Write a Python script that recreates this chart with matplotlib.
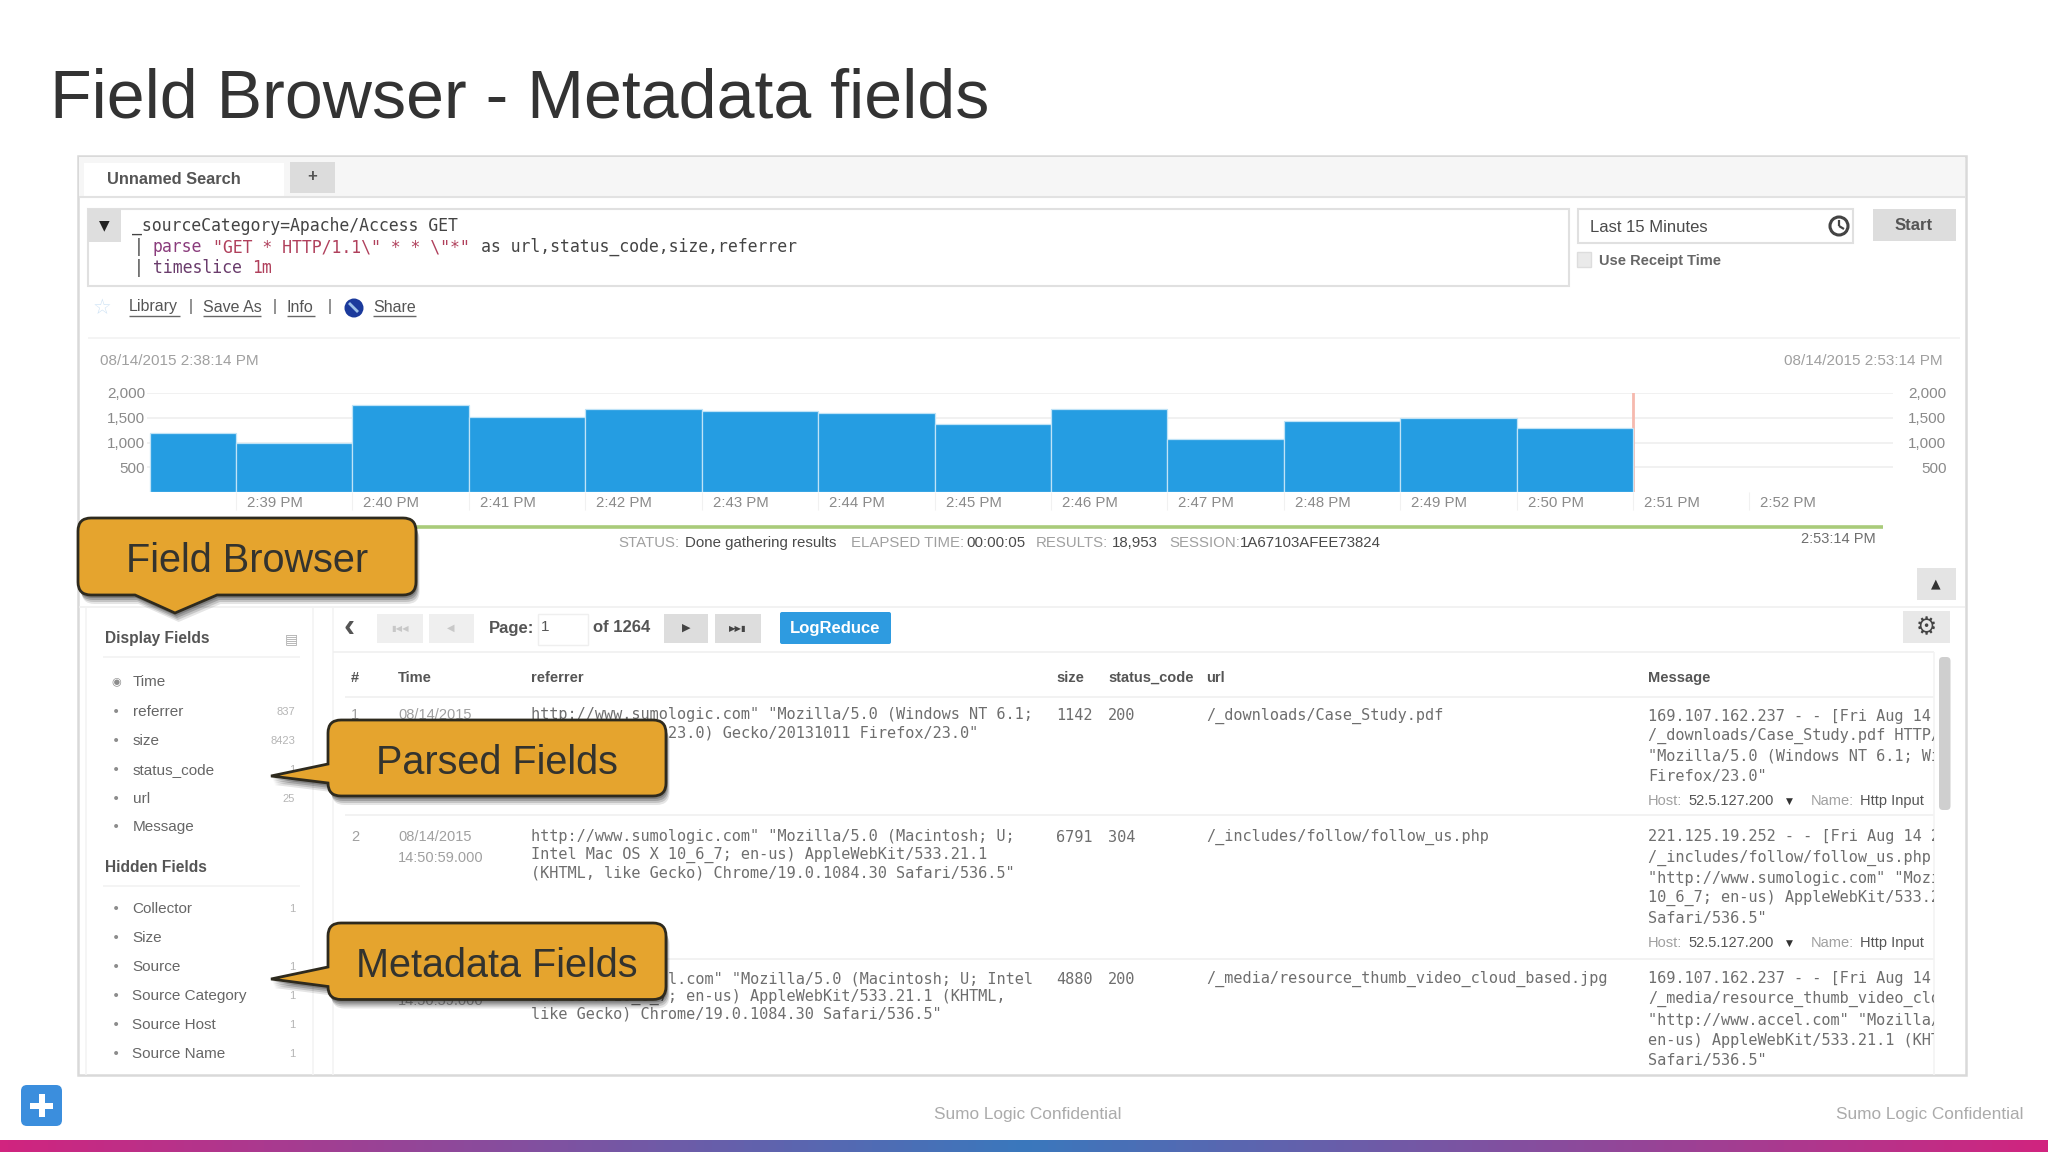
#!/usr/bin/env python3
"""Field Browser slide: log search screenshot with callouts, drawn in pixel coords."""

import matplotlib

matplotlib.use("Agg")
import matplotlib.pyplot as plt
import numpy as np
from matplotlib.colors import LinearSegmentedColormap
from matplotlib.patches import Circle, FancyBboxPatch, PathPatch, Rectangle
from matplotlib.path import Path
from matplotlib.transforms import ScaledTranslation

W, H = 2048, 1152
SANS = "Liberation Sans"
MONO = "DejaVu Sans Mono"
CH = 9.14  # px per char in the results table
BLUE = "#259DE2"
ORANGE = "#E5A42E"
DARK = "#4A4A4A"
MID = "#6E6E6E"
PALE = "#A0A0A0"
RULE = "#F0F0F0"

# ---- Data ---------------------------------------------------------------------
# minutes after 2:39 PM
bar_starts = [-0.74, 0, 1, 2, 3, 4, 5, 6, 7, 8, 9, 10, 11]
bar_widths = [0.74, 1, 1, 1, 1, 1, 1, 1, 1, 1, 1, 1, 1]
bar_counts = [1200, 1000, 1760, 1525, 1686, 1646, 1597, 1375, 1680, 1072, 1443, 1504, 1294]
y_ticks = [500, 1000, 1500, 2000]
y_tick_labels = ["500", "1,000", "1,500", "2,000"]
x_ticks = list(range(14))
x_tick_labels = ["2:39 PM", "2:40 PM", "2:41 PM", "2:42 PM", "2:43 PM", "2:44 PM", "2:45 PM",
                 "2:46 PM", "2:47 PM", "2:48 PM", "2:49 PM", "2:50 PM", "2:51 PM", "2:52 PM"]

display_fields = ["Time", "referrer", "size", "status_code", "url", "Message"]
display_counts = ["", "837", "8423", "1", "25", ""]
hidden_fields = ["Collector", "Size", "Source", "Source Category", "Source Host", "Source Name"]
hidden_counts = ["1", "", "1", "1", "1", "1"]

table_headers = ["#", "Time", "referrer", "size", "status_code", "url", "Message"]
row_sizes = ["1142", "6791", "4880"]
row_codes = ["200", "304", "200"]
row_urls = ["/_downloads/Case_Study.pdf", "/_includes/follow/follow_us.php",
            "/_media/resource_thumb_video_cloud_based.jpg"]
# the parts of rows 1 and 3 that sit under the callouts are left out
row_referrers = [
    ['http://www.sumologic.com" "Mozilla/5.0 (Windows NT 6.1;',
     '               23.0) Gecko/20131011 Firefox/23.0"'],
    ['http://www.sumologic.com" "Mozilla/5.0 (Macintosh; U;',
     'Intel Mac OS X 10_6_7; en-us) AppleWebKit/533.21.1',
     '(KHTML, like Gecko) Chrome/19.0.1084.30 Safari/536.5"'],
    ['               l.com" "Mozilla/5.0 (Macintosh; U; Intel',
     'Mac OS X 10_6_7; en-us) AppleWebKit/533.21.1 (KHTML,',
     'like Gecko) Chrome/19.0.1084.30 Safari/536.5"'],
]
row_messages = [
    ['169.107.162.237 - - [Fri Aug 14 2015',
     '/_downloads/Case_Study.pdf HTTP/1.1"',
     '"Mozilla/5.0 (Windows NT 6.1; Win64',
     'Firefox/23.0"'],
    ['221.125.19.252 - - [Fri Aug 14 2015',
     '/_includes/follow/follow_us.php HTTP',
     '"http://www.sumologic.com" "Mozilla/',
     '10_6_7; en-us) AppleWebKit/533.21.1',
     'Safari/536.5"'],
    ['169.107.162.237 - - [Fri Aug 14 2015',
     '/_media/resource_thumb_video_cloud_b',
     '"http://www.accel.com" "Mozilla/5.0',
     'en-us) AppleWebKit/533.21.1 (KHTML,',
     'Safari/536.5"'],
]

fig = plt.figure(figsize=(W / 100, H / 100), dpi=100, facecolor="white")
page = fig.add_axes([0, 0, 1, 1])
page.axis("off")


def T(x, y, s, size=11, color=DARK, ha="left", weight="normal", family=SANS, **kw):
    return page.text(x, y, s, fontsize=size, color=color, ha=ha, va="center",
                     fontweight=weight, family=family, **kw)


def box(x0, y0, x1, y1, fc="white", ec="none", lw=1.0, r=0, z=1):
    if r:
        p = FancyBboxPatch((x0, y0), x1 - x0, y1 - y0, boxstyle=f"round,pad=0,rounding_size={r}",
                           fc=fc, ec=ec, lw=lw, zorder=z)
    else:
        p = Rectangle((x0, y0), x1 - x0, y1 - y0, fc=fc, ec=ec, lw=lw, zorder=z)
    page.add_patch(p)
    return p


def rule(x0, y0, x1, y1, color=RULE, lw=1.2, z=1.5):
    page.plot([x0, x1], [y0, y1], color=color, lw=lw, zorder=z, solid_capstyle="butt")


def callout(x0, y0, x1, y1, tip, base, side, label, size=28.5):
    """Rounded box with a pointer on its bottom or left side."""
    r = 13
    v = [(x0 + r, y0), (x1 - r, y0), (x1, y0), (x1, y0 + r), (x1, y1 - r), (x1, y1), (x1 - r, y1)]
    c = [Path.MOVETO, Path.LINETO, Path.CURVE3, Path.CURVE3, Path.LINETO, Path.CURVE3, Path.CURVE3]
    if side == "bottom":
        v += [(base[1], y1), tip, (base[0], y1)]
        c += [Path.LINETO] * 3
    v += [(x0 + r, y1), (x0, y1), (x0, y1 - r)]
    c += [Path.LINETO, Path.CURVE3, Path.CURVE3]
    if side == "left":
        v += [(x0, base[1]), tip, (x0, base[0])]
        c += [Path.LINETO] * 3
    v += [(x0, y0 + r), (x0, y0), (x0 + r, y0), (x0 + r, y0)]
    c += [Path.LINETO, Path.CURVE3, Path.CURVE3, Path.CLOSEPOLY]
    path = Path(v, c)
    for off, alpha in ((9, 0.10), (7, 0.14), (5, 0.18), (3, 0.2)):
        shifted = Path(np.array(v) + [off * 0.4, off], c)
        page.add_patch(PathPatch(shifted, fc="black", ec="none", alpha=alpha, zorder=8))
    page.add_patch(PathPatch(path, fc=ORANGE, ec="#2E2A1E", lw=2.0, zorder=9))
    T((x0 + x1) / 2, (y0 + y1) / 2 + 4.5, label, size=size, color="#33332E", ha="center", zorder=10)


# ---- Slide chrome -------------------------------------------------------------
T(50, 99, "Field Browser - Metadata fields", size=49.1, color="#333333")
T(1028, 1114, "Sumo Logic Confidential", size=12.4, color="#ABABAB", ha="center")
T(2024, 1115, "Sumo Logic Confidential", size=12.4, color="#ABABAB", ha="right")

band = LinearSegmentedColormap.from_list("band", ["#D1247F", "#3A78BD", "#D1247F"])
page.imshow(np.linspace(0, 1, 1024)[None, :], extent=[0, W, H, H - 12], cmap=band,
            aspect="auto", zorder=1)

box(21, 1085, 62, 1126, fc="#3B8EDD", r=6, z=3)
box(30, 1102.5, 53, 1108.5, fc="white", z=4)
box(38.5, 1094, 44.5, 1117, fc="white", z=4)

# ---- Screenshot frame and search bar ------------------------------------------
box(78, 156, 1966, 1075, fc="white", ec="#D9D9D9", lw=1.8)
box(79, 157, 1965, 196, fc="#F6F6F6")
rule(79, 197, 1965, 197, color="#E2E2E2", lw=1.5)
box(84, 163, 284, 198, fc="white")
T(107, 180, "Unnamed Search", size=11.8, weight="bold", color="#555555")
box(290, 162, 335, 193, fc="#DCDCDC")
T(312, 177, "+", size=12, ha="center", weight="bold", color="#555555")

box(88, 209, 1569, 286, fc="white", ec="#E0E0E0", lw=1.5)
box(88, 209, 121, 242, fc="#DEDEDE")
T(104.5, 225, "▼", size=10, ha="center", color="#222222", family="DejaVu Sans")


def mono(x, y, s, color=MID, cw=9.95, size=11.9, start=0):
    return T(x + start * cw, y, s, size=size, color=color, family=MONO)


mono(132, 226, "_sourceCategory=Apache/Access GET", color="#444444")
mono(134, 247, "|", color="#444444")
mono(153, 247, "parse", color="#8A3C7C")
mono(153, 247, '"GET * HTTP/1.1\\" * * \\"*"', color="#B0405C", start=6)
mono(153, 247, "as url,status_code,size,referrer", color="#444444", start=33)
mono(134, 268, "|", color="#444444")
mono(153, 268, "timeslice", color="#6A3C6C")
mono(153, 268, "1m", color="#B0405C", start=10)

box(1578, 209, 1853, 243, fc="white", ec="#E0E0E0", lw=1.5)
T(1590, 227, "Last 15 Minutes", size=12)
page.add_patch(Circle((1839, 226), 9, fc="white", ec="#444444", lw=2.2, zorder=3))
rule(1839, 226, 1839, 220, color="#444444", lw=1.6, z=4)
rule(1839, 226, 1844, 229, color="#444444", lw=1.6, z=4)
box(1873, 209, 1956, 241, fc="#DDDDDD")
T(1914, 226, "Start", size=12, ha="center", weight="bold", color="#555555")
box(1577, 252, 1591, 267, fc="#EAEAEA", ec="#DDDDDD")
T(1599, 261, "Use Receipt Time", size=10.5, weight="bold", color="#666666")

T(102, 308, "☆", size=15, ha="center", color="#CFE3F5", family="DejaVu Sans")
for label, x0, x1 in [("Library", 129, 180), ("Save As", 203, 261), ("Info", 287, 315), ("Share", 373, 416)]:
    T(x0, 307, label, size=11.5, color="#555555")
    rule(x0, 316, x1, 316, color="#666666", lw=1.0)
for x in (191, 275, 330):
    T(x, 307, "|", size=11.5, ha="center", color="#555555")
page.add_patch(Circle((354, 308), 9.5, fc="#1B3A9C", ec="none", zorder=3))
rule(349, 303, 358, 312, color="#9CC0E8", lw=2, z=4)

# ---- Histogram ----------------------------------------------------------------
rule(88, 338, 1960, 338, color="#F2F2F2")
T(100, 361, "08/14/2015 2:38:14 PM", size=11, color=PALE)
T(1943, 361, "08/14/2015 2:53:14 PM", size=11, color=PALE, ha="right")

x_left, x_right, y_base, y_top = 146.7, 1893, 492, 393
ax = fig.add_axes([x_left / W, (H - y_base) / H, (x_right - x_left) / W, (y_base - y_top) / H])
ax.patch.set_visible(False)
ax.bar(bar_starts, bar_counts, width=bar_widths, align="edge", color=BLUE,
       edgecolor="#BFE3F7", linewidth=0.9, zorder=3)
ax.axvline(12, color="#F6B9AE", lw=2, zorder=2)
ax.set_xlim(-0.767, 14.233)
ax.set_ylim(0, 2000)
ax.set_xticks(x_ticks)
ax.set_xticklabels(x_tick_labels, family=SANS, fontsize=10.8, color="#8A8A8A")
ax.set_yticks(y_ticks)
ax.set_yticklabels(y_tick_labels, family=SANS, fontsize=11, color="#8A8A8A")
ax.tick_params(axis="x", length=13, color="#F1F1F1", pad=-10)
ax.tick_params(axis="y", length=0, pad=1, right=False, labelright=True)
shift = ScaledTranslation(11 / 100, 0, fig.dpi_scale_trans)
for lab in ax.get_xticklabels():
    lab.set_ha("left")
    lab.set_transform(lab.get_transform() + shift)
for tick in ax.yaxis.get_major_ticks():
    tick.label2.set_ha("right")
    tick.label2.set_x(1.0)
    tick.label2.set_transform(tick.label2.get_transform() + ScaledTranslation(52 / 100, 0, fig.dpi_scale_trans))
ax.yaxis.grid(True, color="#EFEFEF", lw=1.2)
ax.set_axisbelow(True)
for s in ax.spines.values():
    s.set_visible(False)

rule(88, 527, 1883, 527, color="#A9CB7A", lw=2.6)
for x, s, col in [(618, "STATUS:", PALE), (685, "Done gathering results", DARK),
                  (851, "ELAPSED TIME:", PALE), (966, "00:00:05", DARK),
                  (1036, "RESULTS:", PALE), (1112, "18,953", DARK),
                  (1169, "SESSION:", PALE), (1240, "1A67103AFEE73824", DARK)]:
    T(x, 543, s, size=10.8, color=col)
T(1876, 539, "2:53:14 PM", size=10.5, color=MID, ha="right")

# ---- Pager ---------------------------------------------------------------------
rule(79, 607, 1965, 607)
box(1917, 568, 1956, 600, fc="#E4E4E4")
T(1936, 584, "▲", size=9, ha="center", color="#333333", family="DejaVu Sans")
rule(86, 607, 86, 1075, color="#F3F3F3")
rule(313, 607, 313, 1075, color="#F3F3F3")
rule(333, 607, 333, 1075, color="#F3F3F3")

T(349, 627, "‹", size=24, ha="center", color="#555555", weight="bold")
box(377, 614, 423, 643, fc="#EFEFEF")
box(429, 614, 474, 643, fc="#EFEFEF")
T(400, 628, "▮◀◀", size=6, ha="center", color="#C8C8C8", family="DejaVu Sans")
T(451, 628, "◀", size=7, ha="center", color="#C8C8C8", family="DejaVu Sans")
T(489, 628, "Page:", size=12, color="#555555", weight="bold")
box(538, 614, 588, 645, fc="white", ec="#EFEFEF")
T(541, 627, "1", size=11, color="#555555")
T(593, 628, "of 1264", size=12, color="#555555", weight="bold")
box(664, 614, 708, 643, fc="#DDDDDD")
box(715, 614, 761, 643, fc="#DDDDDD")
T(686, 628, "▶", size=8, ha="center", color="#444444", family="DejaVu Sans")
T(738, 628, "▶▶▮", size=6, ha="center", color="#444444", family="DejaVu Sans")
box(780, 612, 891, 644, fc="#2E9BE0", r=2)
T(835, 628, "LogReduce", size=12, ha="center", color="white", weight="bold")
box(1903, 611, 1950, 643, fc="#E8E8E8")
T(1926, 627, "⚙", size=17, ha="center", color="#444444", family="DejaVu Sans")

# ---- Field sidebar -------------------------------------------------------------
T(105, 639, "Display Fields", size=11.2, color="#555555", weight="bold")
T(291, 639, "▤", size=10, ha="center", color="#AAAAAA", family="DejaVu Sans")
rule(103, 657, 300, 657, color="#F2F2F2")
T(105, 867, "Hidden Fields", size=11.2, color="#555555", weight="bold")
rule(103, 885.5, 300, 885.5, color="#F2F2F2")


def field_rows(names, counts, ys):
    for name, count, y in zip(names, counts, ys):
        T(116, y, "◉" if name == "Time" else "•", size=8 if name == "Time" else 10, ha="center",
          color="#8C8C8C", family="DejaVu Sans")
        T(132.5, y, name, size=11, color="#666666")
        if count:
            T(295, y, count, size=8, ha="right", color="#B5B5B5")


field_rows(display_fields, display_counts, [682.5, 712, 741, 770, 799, 827])
field_rows(hidden_fields, hidden_counts, [909, 938, 967, 996, 1025, 1054])

# ---- Results table -------------------------------------------------------------
rule(333, 652, 1934, 652)
rule(345, 697, 1934, 697)
rule(345, 815, 1934, 815)
rule(345, 959, 1934, 959)
box(1939, 657, 1950.5, 810, fc="#CFCFCF", r=4)
rule(1934, 652, 1934, 1075, color="#F4F4F4")

for x, s in zip([351, 398, 531, 1056, 1108, 1206, 1648], table_headers):
    T(x, 678, s, size=10.5, color="#555555", weight="bold")

# row numbers and times that show around the callouts
T(351, 715, "1", size=10.5, color="#A0A0A0")
T(351, 837, "2", size=10.5, color="#A0A0A0")
T(398, 715, "08/14/2015", size=10.5, color="#A0A0A0")
T(398, 837, "08/14/2015", size=10.5, color="#A0A0A0")
T(398, 858, "14:50:59.000", size=10.5, color="#A0A0A0")
T(398, 1001, "14:50:59.000", size=10.5, color="#A0A0A0")

clip = Rectangle((1640, 650), 294, 425, transform=page.transData)
first_y = [716, 837, 979]
ref_ys = [[715, 733], [837, 855, 872.5], [979.5, 997, 1014]]
msg_ys = [[716, 736, 756, 776], [837, 858, 878, 898, 918], [979, 999, 1020, 1040, 1060]]
for i, y in enumerate(first_y):
    mono(1056, y, row_sizes[i], cw=CH, size=10.95)
    mono(1108, y, row_codes[i], cw=CH, size=10.95)
    mono(1206, y, row_urls[i], cw=CH, size=10.95)
    for yy, s in zip(ref_ys[i], row_referrers[i]):
        body = s.lstrip()
        mono(531, yy, body, cw=CH, size=10.95, start=len(s) - len(body))
    for yy, s in zip(msg_ys[i], row_messages[i]):
        t = mono(1648, yy, s, cw=CH, size=10.95)
        t.set_clip_on(True)
        t.set_clip_path(clip)

for y in (801, 943):
    T(1648, y, "Host:", size=10.5, color=PALE)
    T(1688.5, y, "52.5.127.200", size=10.5, color="#555555")
    T(1789, y, "▼", size=6.5, ha="center", color="#333333", family="DejaVu Sans")
    T(1811, y, "Name:", size=10.5, color=PALE)
    T(1860, y, "Http Input", size=10.5, color="#555555")

# ---- Callouts ------------------------------------------------------------------
callout(78, 518, 416, 595, (175, 613), (135, 217), "bottom", "Field Browser")
callout(328, 720, 666, 796, (271, 776), (764, 783), "left", "Parsed Fields")
callout(328, 923, 666, 999.5, (271, 979), (967, 986.5), "left", "Metadata Fields")

page.set_xlim(0, W)
page.set_ylim(H, 0)
fig.savefig("out.png", dpi=100, facecolor="white")
